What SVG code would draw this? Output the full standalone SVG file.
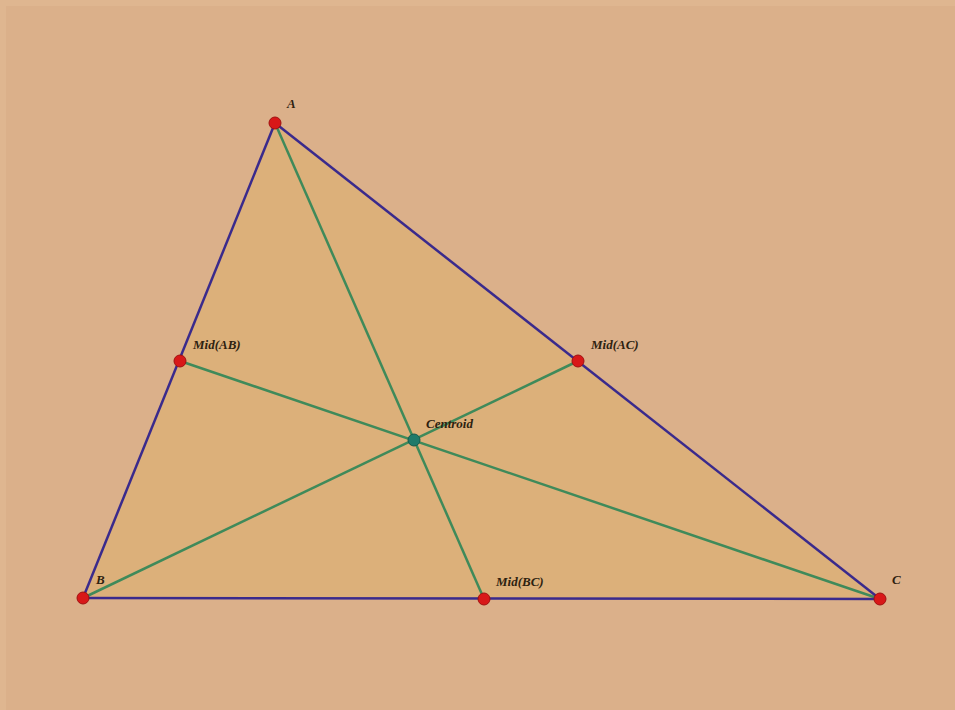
<svg xmlns="http://www.w3.org/2000/svg" width="955" height="710" viewBox="0 0 955 710">
<style>
.lbl{font-family:"Liberation Serif","Times New Roman",serif;font-weight:bold;font-style:italic;font-size:13px;fill:#2e2210}
.side{stroke:#3a2a8c;stroke-width:2.5;fill:none}
.med{stroke:#3f8a5a;stroke-width:2.5;fill:none}
.pt{fill:#d81818;stroke:#a01010;stroke-width:1}
.cen{fill:#1f7a6a;stroke:#155a4c;stroke-width:1}
</style>
<rect x="0" y="0" width="955" height="710" fill="#dbb08a"/>
<path d="M0 0H955V6H6V710H0Z" fill="#dfb690"/>
<g id="triangle">
<polygon points="275,123 83,598 880,599" fill="#dcb07a"/>
</g>
<g id="connectors">
<line class="med" x1="275" y1="123" x2="484" y2="599"/>
<line class="med" x1="180" y1="361" x2="880" y2="599"/>
<line class="med" x1="83" y1="598" x2="578" y2="361"/>
<line class="side" x1="275" y1="123" x2="83" y2="598"/>
<line class="side" x1="275" y1="123" x2="880" y2="599"/>
<line class="side" x1="83" y1="598" x2="880" y2="599"/>
</g>
<g id="A"><circle class="pt" cx="275" cy="123" r="6"/><text class="lbl" x="287" y="108">A</text></g>
<g id="B"><circle class="pt" cx="83" cy="598" r="6"/><text class="lbl" x="96" y="584">B</text></g>
<g id="C"><circle class="pt" cx="880" cy="599" r="6"/><text class="lbl" x="892" y="584">C</text></g>
<g id="MidAB"><circle class="pt" cx="180" cy="361" r="6"/><text class="lbl" x="193" y="349">Mid(AB)</text></g>
<g id="MidAC"><circle class="pt" cx="578" cy="361" r="6"/><text class="lbl" x="591" y="349">Mid(AC)</text></g>
<g id="MidBC"><circle class="pt" cx="484" cy="599" r="6"/><text class="lbl" x="496" y="586">Mid(BC)</text></g>
<g id="Centroid"><circle class="cen" cx="414" cy="440" r="6"/><text class="lbl" x="426" y="428">Centroid</text></g>
</svg>
